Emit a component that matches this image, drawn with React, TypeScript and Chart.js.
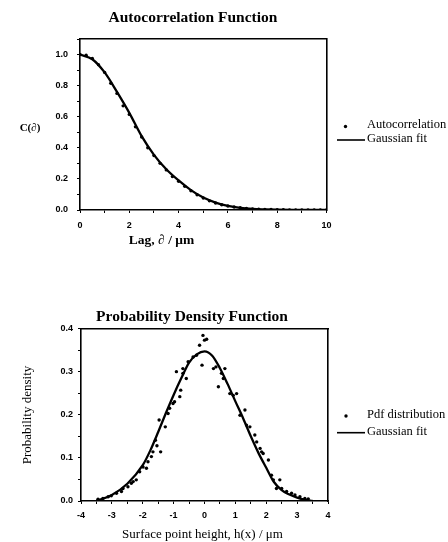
import React, { useEffect, useRef } from "react";
import { Chart, registerables } from "chart.js";

Chart.register(...registerables);

// ---------- Autocorrelation panel data ----------
const acLag = [0, 0.25, 0.5, 0.75, 1.0, 1.25, 1.5, 1.75, 2.0, 2.25, 2.5, 2.75, 3.0, 3.25, 3.5, 3.75, 4.0, 4.25, 4.5, 4.75, 5.0, 5.25, 5.5, 5.75, 6.0, 6.25, 6.5, 6.75, 7.0, 7.25, 7.5, 7.75, 8.0, 8.25, 8.5, 8.75, 9.0, 9.25, 9.5, 9.75, 10.0];
const acValue = [1.0, 0.995, 0.975, 0.935, 0.885, 0.815, 0.75, 0.67, 0.615, 0.535, 0.47, 0.4, 0.35, 0.3, 0.258, 0.215, 0.185, 0.152, 0.124, 0.098, 0.077, 0.059, 0.045, 0.034, 0.026, 0.019, 0.014, 0.01, 0.007, 0.005, 0.004, 0.003, 0.002, 0.002, 0.001, 0.001, 0.001, 0.0, 0.0, 0.0, 0.0];
const acFitLag = [0, 0.5, 1, 1.5, 2, 2.5, 3, 3.5, 4, 4.5, 5, 5.5, 6, 6.5, 7, 7.5, 8, 9, 10];
const acFitValue = [1.0, 0.97, 0.885, 0.76, 0.625, 0.475, 0.355, 0.262, 0.19, 0.128, 0.08, 0.048, 0.027, 0.014, 0.007, 0.004, 0.002, 0.001, 0.0];

// ---------- Probability density panel data ----------
const pdfHeight = [-3.45, -3.29, -3.12, -3.02, -2.85, -2.69, -2.64, -2.48, -2.37, -2.31, -2.21, -2.1, -1.99, -1.88, -1.83, -1.72, -1.67, -1.59, -1.54, -1.47, -1.42, -1.27, -1.18, -1.13, -1.02, -0.97, -0.91, -0.8, -0.77, -0.7, -0.7, -0.59, -0.53, -0.37, -0.26, -0.16, -0.08, -0.05, 0.0, 0.07, 0.29, 0.37, 0.45, 0.55, 0.61, 0.66, 0.82, 0.93, 1.04, 1.15, 1.31, 1.36, 1.47, 1.63, 1.69, 1.8, 1.85, 1.9, 2.07, 2.17, 2.23, 2.33, 2.44, 2.5, 2.66, 2.82, 2.93, 3.09, 3.25, 3.36];
const pdfDensity = [0.004, 0.006, 0.01, 0.012, 0.018, 0.022, 0.029, 0.033, 0.041, 0.045, 0.049, 0.068, 0.079, 0.076, 0.091, 0.103, 0.114, 0.141, 0.128, 0.188, 0.114, 0.172, 0.203, 0.215, 0.226, 0.23, 0.3, 0.242, 0.257, 0.296, 0.307, 0.284, 0.323, 0.334, 0.338, 0.361, 0.315, 0.384, 0.373, 0.375, 0.307, 0.311, 0.265, 0.296, 0.284, 0.307, 0.249, 0.245, 0.249, 0.199, 0.211, 0.176, 0.172, 0.153, 0.137, 0.122, 0.114, 0.11, 0.095, 0.06, 0.049, 0.029, 0.049, 0.029, 0.022, 0.018, 0.014, 0.01, 0.006, 0.005];
const pdfFitHeight = [-3.5, -3.0, -2.5, -2.0, -1.75, -1.5, -1.25, -1.0, -0.75, -0.5, -0.25, 0, 0.25, 0.5, 0.75, 1.0, 1.25, 1.5, 1.75, 2.0, 2.25, 2.5, 2.75, 3.0, 3.25, 3.5];
const pdfFitDensity = [0.0, 0.014, 0.04, 0.083, 0.118, 0.16, 0.204, 0.246, 0.285, 0.321, 0.34, 0.347, 0.337, 0.308, 0.271, 0.231, 0.192, 0.15, 0.111, 0.077, 0.044, 0.025, 0.015, 0.008, 0.003, 0.0];

const SERIF = '"Liberation Serif", "Times New Roman", serif';
const SANS = '"Liberation Sans", Arial, sans-serif';

type Panel = {
  title: string;
  xTitle: string;
  yTitle: string;
  yRotated: boolean;
  pointLabel: string;
  fitLabel: string;
  xs: number[];
  ys: number[];
  fxs: number[];
  fys: number[];
  xMin: number; xMax: number; xStep: number; xLabelEvery: number; xDecimals: number;
  yMin: number; yMax: number; yStep: number; yLabelEvery: number;
  area: { left: number; right: number; top: number; bottom: number };
  height: number;
  yTickPad: number;
  xTickPad: number;
  titlePos: [number, number];
  xTitlePos: [number, number];
  yTitlePos: [number, number];
  xTitleFont: string;
  yTitleFont: string;
  legend: { dotX: number; dotY: number; lineX1: number; lineX2: number; lineY: number; textX: number; text1Y: number; text2Y: number };
};

const W = 448;

const isMultiple = (v: number, every: number) => {
  const r = Math.round(v * 1000) / 1000 / every;
  return Math.abs(r - Math.round(r)) < 1e-6;
};

function buildChart(canvas: HTMLCanvasElement, p: Panel) {
  const textPlugin = {
    id: "panelText",
    afterDraw(chart: any) {
      const ctx = chart.ctx as CanvasRenderingContext2D;
      const ds = chart.data.datasets;
      ctx.save();
      ctx.fillStyle = "#000";
      ctx.strokeStyle = "#000";
      ctx.textBaseline = "middle";
      // title
      ctx.font = `bold 15.5px ${SERIF}`;
      ctx.textAlign = "center";
      ctx.fillText(p.title, p.titlePos[0], p.titlePos[1]);
      // x title
      ctx.font = p.xTitleFont;
      ctx.fillText(p.xTitle, p.xTitlePos[0], p.xTitlePos[1]);
      // y title
      ctx.font = p.yTitleFont;
      if (p.yRotated) {
        ctx.save();
        ctx.translate(p.yTitlePos[0], p.yTitlePos[1]);
        ctx.rotate(-Math.PI / 2);
        ctx.fillText(p.yTitle, 0, 0);
        ctx.restore();
      } else {
        ctx.fillText(p.yTitle, p.yTitlePos[0], p.yTitlePos[1]);
      }
      // legend
      const L = p.legend;
      ctx.beginPath();
      ctx.arc(L.dotX, L.dotY, 1.7, 0, Math.PI * 2);
      ctx.fill();
      ctx.lineWidth = 1.6;
      ctx.beginPath();
      ctx.moveTo(L.lineX1, L.lineY);
      ctx.lineTo(L.lineX2, L.lineY);
      ctx.stroke();
      ctx.font = `12.5px ${SERIF}`;
      ctx.textAlign = "left";
      ctx.fillText(ds[0].label, L.textX, L.text1Y);
      ctx.fillText(ds[1].label, L.textX, L.text2Y);
      ctx.restore();
    },
  };

  const tickFont = { family: SANS, size: 9, weight: "bold" as const };
  const a = p.area;

  return new Chart(canvas, {
    type: "scatter",
    data: {
      datasets: [
        {
          label: p.pointLabel,
          data: p.xs.map((x, i) => ({ x, y: p.ys[i] })),
          backgroundColor: "#000",
          borderColor: "#000",
          pointRadius: 1.7,
          pointBorderWidth: 0,
          showLine: false,
        },
        {
          label: p.fitLabel,
          data: p.fxs.map((x, i) => ({ x, y: p.fys[i] })),
          borderColor: "#000",
          backgroundColor: "#000",
          borderWidth: 2.3,
          pointRadius: 0,
          showLine: true,
          cubicInterpolationMode: "monotone",
        } as any,
      ],
    },
    options: {
      responsive: false,
      animation: false,
      events: [],
      layout: {
        padding: { left: 0, top: a.top, right: W - a.right, bottom: 0 },
      },
      plugins: {
        legend: { display: false },
        title: { display: false },
        tooltip: { enabled: false },
      },
      scales: {
        x: {
          type: "linear",
          position: "bottom",
          min: p.xMin,
          max: p.xMax,
          afterFit: (s: any) => { s.height = p.height - a.bottom; },
          ticks: {
            stepSize: p.xStep,
            autoSkip: false,
            maxRotation: 0,
            padding: p.xTickPad,
            color: "#000",
            font: tickFont,
            callback: (v: any) => (isMultiple(Number(v), p.xLabelEvery) ? Number(v).toFixed(p.xDecimals) : ""),
          },
          grid: { display: true, drawOnChartArea: false, drawTicks: true, tickLength: 3, color: "#000", lineWidth: 1 },
          border: { display: true, color: "#000", width: 1.6 },
        },
        y: {
          type: "linear",
          position: "left",
          min: p.yMin,
          max: p.yMax,
          afterFit: (s: any) => { s.width = a.left; },
          ticks: {
            stepSize: p.yStep,
            autoSkip: false,
            padding: p.yTickPad,
            color: "#000",
            font: tickFont,
            callback: (v: any) => (isMultiple(Number(v), p.yLabelEvery) ? Number(v).toFixed(1) : ""),
          },
          grid: { display: true, drawOnChartArea: false, drawTicks: true, tickLength: 3, color: "#000", lineWidth: 1 },
          border: { display: true, color: "#000", width: 1.6 },
        },
        x2: {
          type: "linear",
          position: "top",
          min: p.xMin,
          max: p.xMax,
          afterFit: (s: any) => { s.height = 0; },
          ticks: { display: false },
          grid: { display: false, drawTicks: false },
          border: { display: true, color: "#000", width: 1.6 },
        },
        y2: {
          type: "linear",
          position: "right",
          min: p.yMin,
          max: p.yMax,
          afterFit: (s: any) => { s.width = 0; },
          ticks: { display: false },
          grid: { display: false, drawTicks: false },
          border: { display: true, color: "#000", width: 1.6 },
        },
      } as any,
    },
    plugins: [textPlugin as any],
  });
}

const topPanel: Panel = {
  title: "Autocorrelation Function",
  xTitle: "Lag, \u2202 / \u03bcm",
  yTitle: "C(\u2202)",
  yRotated: false,
  pointLabel: "Autocorrelation",
  fitLabel: "Gaussian fit",
  xs: acLag,
  ys: acValue,
  fxs: acFitLag,
  fys: acFitValue,
  xMin: 0, xMax: 10, xStep: 1, xLabelEvery: 2, xDecimals: 0,
  yMin: 0, yMax: 1.1, yStep: 0.1, yLabelEvery: 0.2,
  area: { left: 80, right: 326.5, top: 39, bottom: 210 },
  height: 271,
  yTickPad: 9,
  xTickPad: 7,
  titlePos: [193, 18],
  xTitlePos: [161.5, 241],
  yTitlePos: [30, 128],
  xTitleFont: `bold 13.5px ${SERIF}`,
  yTitleFont: `bold 11px ${SERIF}`,
  legend: { dotX: 345.5, dotY: 126.5, lineX1: 337, lineX2: 365, lineY: 140, textX: 367, text1Y: 124.5, text2Y: 138.5 },
};

const bottomPanel: Panel = {
  title: "Probability Density Function",
  xTitle: "Surface point height, h(x) / \u03bcm",
  yTitle: "Probability density",
  yRotated: true,
  pointLabel: "Pdf distribution",
  fitLabel: "Gaussian fit",
  xs: pdfHeight,
  ys: pdfDensity,
  fxs: pdfFitHeight,
  fys: pdfFitDensity,
  xMin: -4, xMax: 4, xStep: 0.5, xLabelEvery: 1, xDecimals: 0,
  yMin: 0, yMax: 0.4, yStep: 0.05, yLabelEvery: 0.1,
  area: { left: 81, right: 328, top: 57.5, bottom: 230 },
  height: 271,
  yTickPad: 5,
  xTickPad: 6,
  titlePos: [192, 46],
  xTitlePos: [202.5, 264],
  yTitlePos: [28, 144],
  xTitleFont: `13px ${SERIF}`,
  yTitleFont: `13px ${SERIF}`,
  legend: { dotX: 346, dotY: 145, lineX1: 337, lineX2: 365, lineY: 161.7, textX: 367, text1Y: 144, text2Y: 160.7 },
};

function PanelChart({ panel }: { panel: Panel }) {
  const ref = useRef<HTMLCanvasElement | null>(null);
  useEffect(() => {
    if (!ref.current) return;
    const chart = buildChart(ref.current, panel);
    return () => chart.destroy();
  }, [panel]);
  return <canvas ref={ref} width={W} height={panel.height} style={{ display: "block", width: W, height: panel.height }} />;
}

export default function App() {
  return (
    <div style={{ position: "absolute", left: 0, top: 0, width: W, height: 542, background: "#fff" }}>
      <PanelChart panel={topPanel} />
      <PanelChart panel={bottomPanel} />
    </div>
  );
}
